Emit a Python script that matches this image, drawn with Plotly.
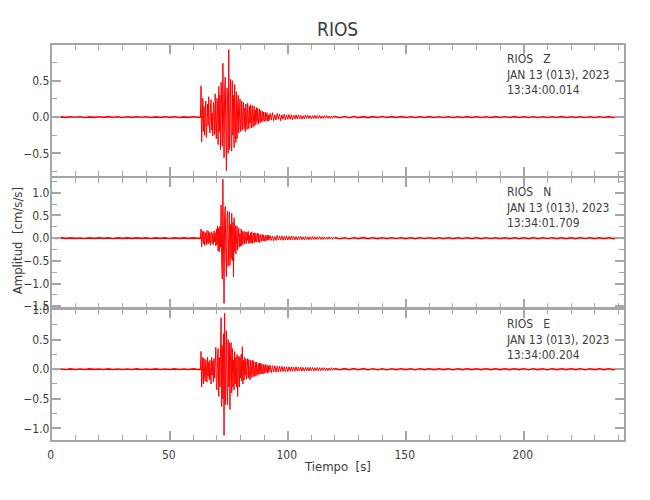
import numpy as np
import plotly.graph_objects as go

# station / component info
station = "RIOS"
components = ["Z", "N", "E"]
date_label = "JAN 13 (013), 2023"
start_times = ["13:34:00.014", "13:34:01.709", "13:34:00.204"]

# sampling of the segments (start s, step s)
pre_start, pre_step = 0.0, 2.0        # quiet before the event
event_start, event_step = 62.5, 0.25  # strong motion
tail_start, tail_step = 92.5, 0.5     # decaying coda
coda_start, coda_step = 120.0, 2.0    # quiet after the event

# ---- Z component [cm/s/s]
z_pre = [0.004, -0.005, 0.003, -0.004, 0.005, -0.003, 0.004, -0.005,
         0.003, -0.004, 0.005, -0.004, 0.006, -0.003, 0.004, -0.005,
         0.004, -0.004, 0.005, -0.003, 0.004, -0.005, 0.003, -0.004,
         0.005, -0.004, 0.004, -0.005, 0.003, -0.004, 0.005, -0.004, 0.004]
z_event = [0.005, -0.008, 0.01, 0.43, -0.34, 0.12, 0.26, -0.2,
           0.15, -0.25, 0.08, 0.22, -0.28, 0.05, 0.18, -0.12,
           0.28, -0.1, -0.22, 0.14, 0.24, -0.18, 0.06, -0.26,
           0.2, 0.1, -0.24, 0.32, -0.15, -0.3, 0.26, 0.12,
           -0.38, 0.42, -0.2, 0.3, -0.45, 0.48, 0.15, -0.4,
           0.74, -0.3, -0.56, 0.35, 0.55, -0.2, -0.74, 0.4,
           0.25, -0.5, 0.93, -0.45, 0.2, 0.52, -0.38, -0.47,
           0.5, -0.25, 0.3, -0.42, 0.45, -0.15, -0.35, 0.35,
           -0.3, 0.12, 0.3, -0.22, 0.1, 0.25, -0.2, -0.1,
           0.22, -0.18, 0.08, 0.2, -0.16, 0.12, -0.2, 0.18,
           -0.05, -0.17, 0.19, 0.06, -0.16, 0.15, -0.08, 0.17,
           -0.15, 0.05, 0.16, -0.14, -0.04, 0.15, -0.12, 0.1,
           -0.1, 0.13, -0.06, 0.12, -0.1, 0.04, 0.11, -0.08,
           0.09, -0.07, 0.05, 0.08, -0.06, 0.07, -0.03, -0.06,
           0.07, -0.05, 0.04, 0.06, -0.06, 0.03, -0.05]
z_tail = [0.05, -0.04, 0.06, -0.05, 0.03, -0.04, 0.05, -0.03,
          0.04, -0.05, 0.03, -0.03, 0.04, -0.04, 0.03, -0.03,
          0.035, -0.03, 0.03, -0.035, 0.025, -0.03, 0.03, -0.025,
          0.03, -0.025, 0.025, -0.03, 0.02, -0.025, 0.03, -0.02,
          0.025, -0.02, 0.02, -0.025, 0.02, -0.02, 0.025, -0.02,
          0.02, -0.02, 0.025, -0.02, 0.015, -0.02, 0.02, -0.015,
          0.02, -0.015, 0.015, -0.02, 0.015, -0.015, 0.02, -0.01]
z_coda = [0.008, -0.008, 0.007, -0.008, 0.008, -0.007, 0.006, -0.007,
          0.006, -0.006, 0.007, -0.006, 0.006, -0.005, 0.006, -0.006,
          0.005, -0.006, 0.005, -0.005, 0.006, -0.005, 0.005, -0.005,
          0.005, -0.006, 0.005, -0.005, 0.006, -0.005, 0.005, -0.006,
          0.005, -0.005, 0.006, -0.005, 0.005, -0.005, 0.006, -0.005,
          0.005, -0.006, 0.005, -0.005, 0.005, -0.006, 0.005, -0.005,
          0.006, -0.005, 0.005, -0.005, 0.005, -0.006, 0.005, -0.005,
          0.005, -0.005, 0.006, -0.005, 0.005, -0.004]

# ---- N component
n_pre = [0.005, -0.006, 0.005, -0.005, 0.006, -0.005, 0.004, -0.006,
         0.005, -0.005, 0.006, -0.005, 0.005, -0.006, 0.005, -0.005,
         0.007, -0.005, 0.005, -0.005, 0.006, -0.006, 0.005, -0.005,
         0.005, -0.006, 0.006, -0.005, 0.005, -0.005, 0.006, -0.005, 0.005]
n_event = [0.005, -0.006, 0.008, 0.2, -0.19, 0.1, 0.16, -0.12,
           0.14, -0.16, 0.05, 0.12, -0.15, 0.17, -0.06, -0.13,
           0.15, -0.1, 0.12, -0.16, 0.08, 0.14, -0.12, 0.1,
           -0.14, 0.16, -0.08, 0.12, -0.17, 0.2, -0.15, 0.27,
           -0.28, 0.22, -0.3, 0.26, -0.2, 0.73, -0.5, -0.9,
           1.3, -0.6, -1.44, 0.5, 0.7, -0.4, -0.85, 0.45,
           0.6, -0.62, 0.2, 0.58, -0.6, 0.3, -0.45, 0.55,
           -0.5, 0.35, -0.85, 0.45, -0.3, 0.28, -0.35, 0.2,
           0.27, -0.26, 0.12, 0.22, -0.2, 0.1, -0.18, 0.2,
           -0.16, 0.15, -0.14, 0.08, 0.15, -0.13, -0.06, 0.14,
           -0.12, 0.13, -0.05, 0.15, -0.12, 0.06, -0.11, 0.12,
           -0.1, 0.14, -0.12, 0.05, 0.11, -0.1, 0.12, -0.08,
           0.1, -0.09, 0.05, 0.11, -0.08, 0.09, -0.1, 0.06,
           0.08, -0.07, 0.04, 0.08, -0.06, 0.07, -0.07, 0.05,
           0.06, -0.06, 0.03, 0.07, -0.05, 0.06, -0.04]
n_tail = [0.06, -0.05, 0.05, -0.06, 0.04, -0.05, 0.06, -0.04,
          0.05, -0.04, 0.05, -0.05, 0.04, -0.04, 0.05, -0.04,
          0.04, -0.04, 0.045, -0.035, 0.04, -0.04, 0.035, -0.04,
          0.035, -0.03, 0.04, -0.035, 0.03, -0.035, 0.035, -0.03,
          0.03, -0.035, 0.03, -0.03, 0.035, -0.03, 0.03, -0.03,
          0.03, -0.025, 0.03, -0.03, 0.025, -0.03, 0.025, -0.025,
          0.025, -0.025, 0.03, -0.02, 0.025, -0.025, 0.02, -0.015]
n_coda = [0.012, -0.012, 0.01, -0.012, 0.01, -0.01, 0.011, -0.01,
          0.01, -0.01, 0.009, -0.01, 0.01, -0.009, 0.01, -0.01,
          0.009, -0.01, 0.01, -0.009, 0.01, -0.01, 0.009, -0.01,
          0.01, -0.01, 0.01, -0.009, 0.01, -0.01, 0.009, -0.01,
          0.01, -0.009, 0.01, -0.01, 0.009, -0.01, 0.01, -0.01,
          0.01, -0.01, 0.009, -0.01, 0.01, -0.009, 0.01, -0.01,
          0.009, -0.01, 0.01, -0.01, 0.01, -0.009, 0.01, -0.01,
          0.01, -0.01, 0.009, -0.01, 0.01, -0.008]

# ---- E component
e_pre = [0.004, -0.005, 0.004, -0.004, 0.005, -0.004, 0.004, -0.005,
         0.005, -0.003, 0.004, -0.004, 0.005, -0.005, 0.004, -0.004,
         0.004, -0.005, 0.006, -0.004, 0.004, -0.004, 0.005, -0.004,
         0.004, -0.004, 0.005, -0.005, 0.004, -0.004, 0.005, -0.004, 0.004]
e_event = [0.005, -0.006, 0.01, 0.3, -0.3, 0.08, 0.2, -0.25,
           0.18, -0.1, -0.2, 0.16, 0.05, -0.22, 0.2, -0.12,
           0.12, -0.18, 0.15, -0.06, -0.25, 0.2, -0.1, 0.14,
           -0.22, 0.18, -0.15, 0.1, 0.37, -0.3, -0.35, 0.25,
           0.35, -0.46, 0.2, -0.3, 0.3, 0.87, -0.63, 0.4,
           -0.5, 0.6, -1.12, 0.95, -0.6, 0.3, 0.65, -0.4,
           -0.6, 0.5, -0.3, 0.45, -0.68, 0.25, 0.45, -0.4,
           0.35, -0.3, 0.15, -0.35, 0.3, -0.25, 0.2, -0.3,
           0.25, -0.46, 0.1, 0.22, -0.3, 0.2, -0.15, 0.25,
           -0.2, 0.38, -0.25, 0.15, -0.18, 0.2, -0.1, 0.17,
           -0.17, 0.08, 0.18, -0.15, 0.16, -0.06, -0.18, 0.15,
           -0.14, 0.06, 0.15, -0.13, 0.14, -0.12, 0.05, 0.12,
           -0.12, 0.12, -0.1, 0.06, 0.1, -0.09, 0.1, -0.08,
           0.1, -0.08, 0.09, -0.05, -0.08, 0.08, -0.07, 0.06,
           0.08, -0.06, 0.04, 0.07, -0.07, 0.06, -0.05]
e_tail = [0.07, -0.06, 0.06, -0.05, 0.06, -0.05, 0.05, -0.05,
          0.05, -0.04, 0.05, -0.04, 0.04, -0.04, 0.04, -0.04,
          0.04, -0.035, 0.04, -0.035, 0.035, -0.035, 0.04, -0.03,
          0.035, -0.03, 0.035, -0.03, 0.03, -0.035, 0.03, -0.03,
          0.03, -0.03, 0.03, -0.025, 0.03, -0.03, 0.025, -0.025,
          0.03, -0.025, 0.025, -0.025, 0.025, -0.02, 0.025, -0.025,
          0.02, -0.025, 0.02, -0.02, 0.025, -0.02, 0.02, -0.015]
e_coda = [0.01, -0.01, 0.009, -0.01, 0.009, -0.008, 0.009, -0.008,
          0.008, -0.008, 0.007, -0.008, 0.008, -0.007, 0.008, -0.007,
          0.007, -0.008, 0.007, -0.007, 0.008, -0.007, 0.007, -0.007,
          0.007, -0.008, 0.007, -0.007, 0.008, -0.007, 0.007, -0.007,
          0.007, -0.007, 0.008, -0.007, 0.007, -0.007, 0.008, -0.007,
          0.007, -0.008, 0.007, -0.007, 0.007, -0.008, 0.007, -0.007,
          0.008, -0.007, 0.007, -0.007, 0.007, -0.008, 0.007, -0.007,
          0.007, -0.007, 0.008, -0.007, 0.007, -0.006]

y_ranges = [[-0.81, 0.99], [-1.53, 1.33], [-1.2, 1.01]]
x_range = [0, 242.5]


def times(start, step, values):
    return start + step * np.arange(len(values))


def quiet_arrays(pre, coda):
    # two quiet pieces in one trace, broken by a gap
    t = np.concatenate([times(pre_start, pre_step, pre), [np.nan],
                        times(coda_start, coda_step, coda)])
    return t, np.array(pre + [np.nan] + coda)


def event_arrays(event, tail):
    t = np.concatenate([times(event_start, event_step, event),
                        times(tail_start, tail_step, tail)])
    return t, np.array(event + tail)


quiet = [quiet_arrays(z_pre, z_coda), quiet_arrays(n_pre, n_coda), quiet_arrays(e_pre, e_coda)]
strong = [event_arrays(z_event, z_tail), event_arrays(n_event, n_tail), event_arrays(e_event, e_tail)]

FONT = "Liberation Sans Narrow, DejaVu Sans Condensed, Arial Narrow, sans-serif"
TXT = "#3c3c3c"
AXC = "#a6a6a6"
# the html body has an 8 px margin, so the figure is made smaller to fit the 650x500 window
OFF = 8
W, H = 650 - 2 * OFF, 500 - 2 * OFF


def px_x(p):
    return (p - OFF) / W


def px_y(p):
    return 1 - (p - OFF) / H


# panel edges in window pixels (top, bottom); 2 px gaps hold the shared axis lines
panels_px = [(40, 174), (176, 309), (311, 445)]
domains = [[px_y(b), px_y(t)] for t, b in panels_px]
x_domain = [px_x(48), px_x(624)]

fig = go.Figure()
layout = dict(
    width=W, height=H,
    margin=dict(l=0, r=0, t=0, b=0),
    paper_bgcolor="white", plot_bgcolor="white",
    showlegend=False,
    font=dict(family=FONT, size=12, color=TXT),
)

for i in range(3):
    k = "" if i == 0 else str(i + 1)
    for (t, a), w in ((quiet[i], 1.6), (strong[i], 1)):
        fig.add_trace(go.Scatter(
            x=t, y=a, mode="lines",
            line=dict(color="#ff0000", width=w),
            xaxis="x" + k, yaxis="y" + k,
            hoverinfo="skip", connectgaps=False,
        ))
    layout["xaxis" + k] = dict(
        domain=x_domain, anchor="y" + k, range=x_range,
        showline=True, linecolor=AXC, linewidth=2, mirror="ticks",
        ticks="inside", ticklen=9, tickwidth=2, tickcolor=AXC,
        dtick=50, tick0=0,
        minor=dict(dtick=10, ticks="inside", ticklen=5, tickwidth=1, tickcolor=AXC),
        showgrid=False, zeroline=False,
        showticklabels=(i == 2), ticklabelshift=-1, ticklabelstandoff=2,
        tickfont=dict(size=12, color=TXT),
    )
    layout["yaxis" + k] = dict(
        domain=domains[i], anchor="x" + k, range=y_ranges[i],
        showline=True, linecolor=AXC, linewidth=2, mirror="ticks",
        ticks="inside", ticklen=9, tickwidth=2, tickcolor=AXC,
        dtick=0.5, tick0=0, tickformat=".1f",
        minor=dict(dtick=0.25, ticks="inside", ticklen=5, tickwidth=1, tickcolor=AXC),
        showgrid=False, zeroline=False, ticklabelstandoff=-2,
        tickfont=dict(size=12, color=TXT),
    )

annotations = []
for i, comp in enumerate(components):
    k = "" if i == 0 else str(i + 1)
    annotations.append(dict(
        xref="x" + k, yref="y" + k + " domain", x=191.5, y=0.96,
        xanchor="left", yanchor="top", align="left", showarrow=False,
        text=f"{station}\u00a0\u00a0\u00a0{comp}<br>{date_label}<br>{start_times[i]}",
        font=dict(size=12, color=TXT),
    ))

annotations += [
    dict(xref="paper", yref="paper", x=px_x(336), y=px_y(23),
         text=station, showarrow=False, font=dict(size=19, color=TXT),
         xanchor="center", yanchor="middle"),
    dict(xref="paper", yref="paper", x=px_x(336), y=px_y(472),
         text="Tiempo\u00a0\u00a0[s]", showarrow=False, font=dict(size=13, color=TXT),
         xanchor="center", yanchor="middle"),
    dict(xref="paper", yref="paper", x=px_x(13), y=px_y(240),
         text="Amplitud\u00a0\u00a0[cm/s/s]", showarrow=False, textangle=-90,
         font=dict(size=13, color=TXT), xanchor="center", yanchor="middle"),
]
layout["annotations"] = annotations

fig.update_layout(**layout)
fig.write_html("out.html")
